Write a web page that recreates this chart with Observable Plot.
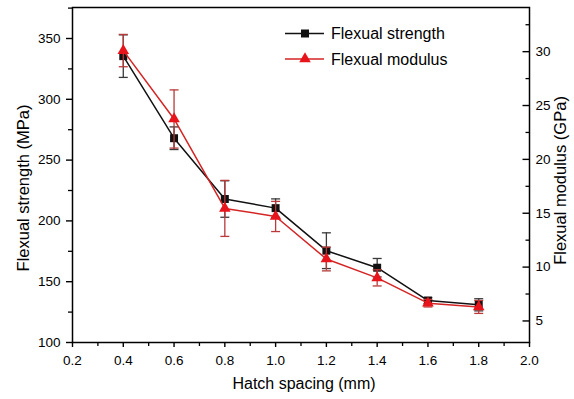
<!DOCTYPE html>
<html><head><meta charset="utf-8">
<script src="https://cdn.jsdelivr.net/npm/d3@7"></script>
<script src="https://cdn.jsdelivr.net/npm/@observablehq/plot@0.6"></script>
<style>
body{margin:0;background:#fff}
#c{position:relative;width:574px;height:399px;font-family:"Liberation Sans",Arial,sans-serif}
#legend{position:absolute;left:0;top:0}
</style>
</head><body><div id="c"></div>
<script>
// Data
const hatch = [0.4, 0.6, 0.8, 1.0, 1.2, 1.4, 1.6, 1.8];
const strength = [335.5, 268, 218, 210.5, 175.5, 161.5, 134.5, 131];
const strengthErr = [17.5, 9.3, 15, 7.6, 14.7, 7.6, 2.5, 5];
const modulus = [30.1, 23.75, 15.45, 14.7, 10.75, 9.0, 6.65, 6.3];
const modulusErr = [1.5, 2.7, 2.6, 1.4, 1.1, 0.75, 0.35, 0.6];

const xMajor = [0.2, 0.4, 0.6, 0.8, 1.0, 1.2, 1.4, 1.6, 1.8, 2.0];
const xMinor = [0.3, 0.5, 0.7, 0.9, 1.1, 1.3, 1.5, 1.7, 1.9];
const yMajor = [100, 150, 200, 250, 300, 350];
const yMinor = [125, 175, 225, 275, 325, 375];
const y2Major = [5, 10, 15, 20, 25, 30];
const y2Minor = [7.5, 12.5, 17.5, 22.5, 27.5, 32.5];
const seriesNames = ["Flexual strength", "Flexual modulus"];
const xTitle = "Hatch spacing (mm)";
const yTitle = "Flexual strength (MPa)";
const y2Title = "Flexual modulus (GPa)";

const yDomain = [100, 375.5];
const y2Domain = [3, 34.1];
const toLeft = d3.scaleLinear(y2Domain, yDomain);

const black = "#111";
const blackErr = "#3a3a3a";
const redMark = "#e8141b";
const redLine = "#d42424";
const redErr = "#b83a3a";

const strRows = hatch.map((x, i) => ({x, y: strength[i], y1: strength[i] - strengthErr[i], y2: strength[i] + strengthErr[i]}));
const modRows = hatch.map((x, i) => ({x, y: toLeft(modulus[i]), y1: toLeft(modulus[i] - modulusErr[i]), y2: toLeft(modulus[i] + modulusErr[i])}));

const cap = {draw(ctx) { ctx.moveTo(-4.5, 0); ctx.lineTo(4.5, 0); }};
const tickIn = (len) => ({draw(ctx) { ctx.moveTo(-len, 0); ctx.lineTo(0, 0); }});

const font = '"Liberation Sans",Arial,sans-serif';

const chart = Plot.plot({
  width: 574,
  height: 399,
  marginLeft: 72,
  marginRight: 45,
  marginTop: 7,
  marginBottom: 57,
  x: {domain: [0.2, 2.0]},
  y: {domain: yDomain},
  style: {fontFamily: font, fontSize: "13.5px", color: "black", background: "white", overflow: "visible"},
  marks: [
    // axes
    Plot.axisX({ticks: xMajor, tickFormat: d3.format(".1f"), tickSize: 5, tickPadding: 8, label: null, strokeWidth: 1.4}),
    Plot.axisX({ticks: xMinor, tickFormat: () => "", tickSize: 4, label: null, strokeWidth: 1.3}),
    Plot.axisY({anchor: "left", ticks: yMajor, tickSize: 6, tickPadding: 6, label: null, strokeWidth: 1.4}),
    Plot.axisY({anchor: "left", ticks: yMinor.filter(v => v <= 375), tickFormat: () => "", tickSize: 4, label: null, strokeWidth: 1.3}),
    Plot.axisY({anchor: "right", ticks: y2Major.map(toLeft), tickFormat: d => d3.format("d")(Math.round(toLeft.invert(d))), tickSize: 0, tickPadding: 6, label: null}),
    Plot.dot(y2Major.map(toLeft), {y: d => d, frameAnchor: "right", symbol: tickIn(7), stroke: "black", strokeWidth: 1.4}),
    Plot.dot(y2Minor.map(toLeft), {y: d => d, frameAnchor: "right", symbol: tickIn(4), stroke: "black", strokeWidth: 1.3}),
    // axis titles
    Plot.text([xTitle], {frameAnchor: "middle", textAnchor: "middle", dx: 3, dy: 208.5, fontSize: 16, fill: "black"}),
    Plot.text([yTitle], {frameAnchor: "middle", textAnchor: "middle", dx: -277, dy: 13, rotate: -90, fontSize: 16.5, fill: "black"}),
    Plot.text([y2Title], {frameAnchor: "middle", textAnchor: "middle", dx: 260, dy: 5.5, rotate: -90, fontSize: 16.5, fill: "black"}),
    // strength series
    Plot.ruleX(strRows, {x: "x", y1: "y1", y2: "y2", stroke: blackErr, strokeWidth: 1.3}),
    Plot.dot(strRows, {x: "x", y: "y1", symbol: cap, stroke: blackErr, strokeWidth: 1.3}),
    Plot.dot(strRows, {x: "x", y: "y2", symbol: cap, stroke: blackErr, strokeWidth: 1.3}),
    Plot.line(strRows, {x: "x", y: "y", stroke: black, strokeWidth: 1.5}),
    Plot.dot(strRows, {x: "x", y: "y", symbol: "square", r: 4.5, fill: black, stroke: "none"}),
    // modulus series
    Plot.ruleX(modRows, {x: "x", y1: "y1", y2: "y2", stroke: redErr, strokeWidth: 1.3}),
    Plot.dot(modRows, {x: "x", y: "y1", symbol: cap, stroke: redErr, strokeWidth: 1.3}),
    Plot.dot(modRows, {x: "x", y: "y2", symbol: cap, stroke: redErr, strokeWidth: 1.3}),
    Plot.line(modRows, {x: "x", y: "y", stroke: redLine, strokeWidth: 1.5}),
    Plot.dot(modRows, {x: "x", y: "y", symbol: "triangle", r: 4.3, fill: redMark, stroke: "none"}),
    Plot.frame({stroke: "black", strokeWidth: 1.5})
  ]
});

const container = document.getElementById("c");
container.appendChild(chart);

// legend (inside plot area, top right)
const lg = d3.select(container).append("svg")
  .attr("id", "legend").attr("width", 574).attr("height", 399)
  .style("pointer-events", "none");
const items = [
  {name: seriesNames[0], line: black, mark: black, sym: d3.symbolSquare, y: 33.5},
  {name: seriesNames[1], line: redLine, mark: redMark, sym: d3.symbolTriangle, y: 59}
];
items.forEach(it => {
  const g = lg.append("g");
  g.append("line").attr("x1", 285).attr("x2", 324).attr("y1", it.y).attr("y2", it.y)
    .attr("stroke", it.line).attr("stroke-width", 1.5);
  g.append("path").attr("d", d3.symbol(it.sym, it.sym === d3.symbolSquare ? 64 : 58)())
    .attr("transform", `translate(305,${it.y})`).attr("fill", it.mark);
  g.append("text").attr("x", 331).attr("y", it.y).attr("dy", "0.35em")
    .attr("font-family", font).attr("font-size", 16).attr("fill", "black").text(it.name);
});
</script>
</body></html>
